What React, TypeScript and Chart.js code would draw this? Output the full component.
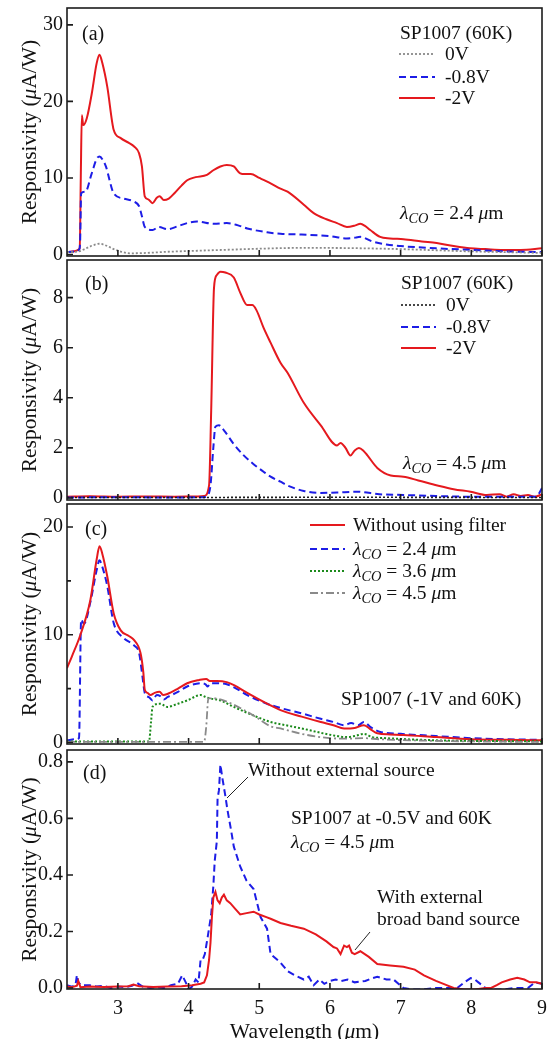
import React, { useEffect, useRef } from 'react';
import { Chart, registerables } from 'chart.js';

Chart.register(...registerables);

const FONT = '"Liberation Serif", "Times New Roman", "DejaVu Serif", serif';
const AXIS = '#1c1c1c';
const PAGE_W = 551;
const PAGE_H = 1039;
const PLOT_LEFT = 67;
const PLOT_RIGHT = 542;

// ---------- shared x axis ----------
const X_MIN = 2.28;
const X_MAX = 9.0;
const X_TICKS = [3, 4, 5, 6, 7, 8, 9];
const X_TICK_LABELS = ['3', '4', '5', '6', '7', '8', '9'];

// ---------- panel (a) ----------
const A_Y_TICKS = [0, 10, 20, 30];
const A_Y_LABELS = ['0', '10', '20', '30'];
const A_RED_X = [2.28, 2.35, 2.46, 2.475, 2.49, 2.51, 2.56, 2.63, 2.7, 2.74, 2.78, 2.85, 2.94, 3.04, 3.15, 3.23, 3.3, 3.34, 3.38, 3.43, 3.49, 3.55, 3.59, 3.65, 3.72, 3.8, 3.9, 3.98, 4.1, 4.26, 4.35, 4.45, 4.54, 4.64, 4.73, 4.8, 4.88, 5.0, 5.16, 5.3, 5.4, 5.63, 5.77, 5.95, 6.1, 6.24, 6.36, 6.43, 6.5, 6.57, 6.71, 6.85, 7.04, 7.3, 7.51, 7.75, 7.98, 8.2, 8.45, 8.7, 9.0];
const A_RED_Y = [0.3, 0.4, 0.8, 10, 18.2, 16.9, 17.8, 21.0, 25.0, 26.1, 25.0, 21.9, 16.3, 15.2, 14.6, 14.1, 13.2, 11.5, 7.6, 7.2, 6.7, 7.4, 7.6, 7.1, 7.3, 8.0, 9.0, 9.7, 10.1, 10.4, 11.0, 11.5, 11.7, 11.5, 10.6, 10.5, 10.5, 10.0, 9.3, 8.6, 8.2, 6.5, 5.4, 4.6, 4.1, 3.6, 3.8, 4.0, 3.7, 3.2, 2.3, 2.1, 2.0, 1.7, 1.5, 1.1, 0.8, 0.7, 0.6, 0.6, 0.8];
const A_BLUE_X = [2.28, 2.35, 2.45, 2.465, 2.48, 2.54, 2.63, 2.7, 2.74, 2.79, 2.83, 2.94, 3.08, 3.23, 3.3, 3.34, 3.38, 3.49, 3.58, 3.7, 3.85, 3.98, 4.12, 4.36, 4.54, 4.7, 4.83, 5.11, 5.3, 5.6, 6.0, 6.24, 6.36, 6.43, 6.6, 6.8, 7.0, 7.5, 8.0, 8.5, 9.0];
const A_BLUE_Y = [0.3, 0.35, 0.6, 1.5, 8.0, 8.2, 10.6, 12.5, 12.8, 12.3, 11.5, 8.0, 7.3, 6.9, 6.3, 5.0, 3.6, 3.2, 3.6, 3.3, 3.7, 4.1, 4.3, 4.0, 4.1, 3.8, 3.4, 2.9, 2.7, 2.6, 2.4, 2.1, 2.2, 2.3, 1.7, 1.3, 1.1, 0.8, 0.6, 0.4, 0.3];
const A_GRAY_X = [2.28, 2.45, 2.55, 2.65, 2.74, 2.85, 2.94, 3.05, 3.18, 3.4, 3.7, 4.0, 4.5, 5.0, 5.5, 6.0, 6.5, 7.0, 7.5, 8.0, 8.5, 9.0];
const A_GRAY_Y = [0.3, 0.4, 0.8, 1.2, 1.4, 1.1, 0.7, 0.35, 0.15, 0.2, 0.35, 0.45, 0.6, 0.75, 0.85, 0.85, 0.8, 0.7, 0.55, 0.4, 0.3, 0.2];

// ---------- panel (b) ----------
const B_Y_TICKS = [0, 2, 4, 6, 8];
const B_Y_LABELS = ['0', '2', '4', '6', '8'];
const B_RED_X = [2.28, 2.6, 3.0, 3.4, 3.8, 4.1, 4.22, 4.29, 4.32, 4.36, 4.4, 4.45, 4.52, 4.64, 4.73, 4.83, 4.9, 4.96, 5.06, 5.16, 5.3, 5.4, 5.63, 5.87, 6.1, 6.15, 6.22, 6.29, 6.35, 6.41, 6.47, 6.53, 6.67, 6.86, 7.04, 7.25, 7.52, 7.75, 7.99, 8.22, 8.4, 8.5, 8.6, 8.7, 8.8, 8.9, 9.0];
const B_RED_Y = [0.05, 0.07, 0.05, 0.06, 0.05, 0.06, 0.08, 0.5, 3.5, 8.4, 8.9, 9.03, 9.0, 8.8, 8.2, 7.7, 7.7, 7.5, 6.8, 6.2, 5.4, 5.0, 3.8, 2.9, 2.1, 2.2, 2.0, 1.7, 1.9, 2.0, 1.9, 1.7, 1.2, 0.9, 0.85, 0.7, 0.5, 0.35, 0.25, 0.12, 0.15, 0.05, 0.15, 0.08, 0.12, 0.05, 0.15];
const B_BLUE_X = [2.28, 3.0, 3.8, 4.2, 4.26, 4.31, 4.35, 4.38, 4.43, 4.5, 4.64, 4.78, 4.92, 5.06, 5.16, 5.3, 5.4, 5.63, 5.87, 6.1, 6.4, 6.7, 7.04, 7.5, 8.0, 8.5, 8.9, 8.95, 9.0];
const B_BLUE_Y = [0.02, 0.03, 0.02, 0.03, 0.08, 0.5, 2.0, 2.85, 2.9, 2.7, 2.15, 1.7, 1.35, 1.05, 0.85, 0.65, 0.5, 0.28, 0.2, 0.22, 0.25, 0.15, 0.12, 0.08, 0.05, 0.05, 0.05, 0.15, 0.4];
const B_BLACK_X = [2.28, 4.0, 6.0, 9.0];
const B_BLACK_Y = [0.02, 0.02, 0.03, 0.02];

// ---------- panel (c) ----------
const C_Y_TICKS = [0, 10, 20];
const C_Y_LABELS = ['0', '10', '20'];
const C_Y_MINOR = [5, 15];
const C_RED_X = [2.28, 2.35, 2.47, 2.61, 2.7, 2.74, 2.78, 2.85, 2.94, 3.04, 3.15, 3.23, 3.32, 3.36, 3.38, 3.42, 3.46, 3.52, 3.59, 3.64, 3.7, 3.85, 3.98, 4.15, 4.25, 4.3, 4.4, 4.54, 4.65, 4.83, 5.11, 5.3, 5.6, 5.87, 6.05, 6.2, 6.35, 6.48, 6.58, 6.67, 6.85, 7.04, 7.5, 7.99, 8.5, 9.0];
const C_RED_Y = [6.9, 8.0, 10.0, 13.2, 17.0, 18.2, 17.5, 15.4, 12.0, 10.4, 9.9, 9.5, 8.3, 6.5, 4.9, 4.6, 4.4, 4.6, 4.7, 4.4, 4.5, 5.0, 5.5, 5.8, 5.9, 5.7, 5.7, 5.6, 5.3, 4.6, 3.6, 3.0, 2.4, 1.9, 1.6, 1.3, 1.35, 1.6, 1.2, 0.85, 0.75, 0.7, 0.5, 0.3, 0.25, 0.2];
const C_BLUE_X = [2.28, 2.4, 2.45, 2.48, 2.52, 2.61, 2.7, 2.74, 2.78, 2.85, 2.94, 3.08, 3.23, 3.3, 3.35, 3.38, 3.44, 3.49, 3.55, 3.6, 3.65, 3.7, 3.85, 3.98, 4.18, 4.24, 4.27, 4.31, 4.4, 4.54, 4.65, 4.83, 5.11, 5.3, 5.6, 5.87, 6.05, 6.2, 6.3, 6.4, 6.48, 6.58, 6.7, 7.0, 7.5, 8.0, 8.5, 9.0];
const C_BLUE_Y = [0.2, 0.3, 0.4, 11.4, 11.0, 13.0, 16.0, 16.9, 16.3, 14.5, 11.1, 9.7, 9.0, 8.3, 6.0, 4.6, 4.2, 3.9, 4.4, 4.3, 4.0, 4.2, 4.7, 5.2, 5.5, 5.4, 5.2, 5.5, 5.5, 5.4, 5.1, 4.4, 3.6, 3.2, 2.7, 2.2, 1.9, 1.6, 1.8, 1.6, 1.9, 1.4, 1.0, 0.8, 0.6, 0.4, 0.3, 0.25];
const C_GREEN_X = [2.28, 3.0, 3.44, 3.47, 3.49, 3.6, 3.7, 3.85, 3.98, 4.17, 4.25, 4.3, 4.45, 4.64, 4.92, 5.16, 5.3, 5.6, 5.87, 6.1, 6.24, 6.35, 6.48, 6.6, 6.8, 7.5, 8.0, 9.0];
const C_GREEN_Y = [0.1, 0.1, 0.1, 2.0, 3.3, 3.6, 3.3, 3.6, 3.9, 4.4, 4.2, 4.1, 3.9, 3.3, 2.5, 1.9, 1.7, 1.3, 0.9, 0.6, 0.5, 0.6, 0.8, 0.5, 0.4, 0.2, 0.15, 0.1];
const C_GRAY_X = [2.28, 3.0, 4.0, 4.22, 4.25, 4.28, 4.35, 4.45, 4.64, 4.92, 5.16, 5.3, 5.6, 5.87, 6.2, 6.48, 6.7, 7.5, 8.0, 9.0];
const C_GRAY_Y = [0.05, 0.05, 0.05, 0.05, 1.5, 4.1, 4.1, 4.0, 3.5, 2.5, 1.5, 1.3, 0.8, 0.5, 0.35, 0.4, 0.3, 0.15, 0.1, 0.05];

// ---------- panel (d) ----------
const D_Y_TICKS = [0, 0.2, 0.4, 0.6, 0.8];
const D_Y_LABELS = ['0.0', '0.2', '0.4', '0.6', '0.8'];
const D_BLUE_X = [2.28, 2.35, 2.4, 2.42, 2.44, 2.48, 2.6, 2.7, 2.8, 2.9, 3.0, 3.1, 3.2, 3.27, 3.35, 3.45, 3.55, 3.65, 3.75, 3.85, 3.91, 3.96, 4.0, 4.05, 4.1, 4.14, 4.17, 4.2, 4.23, 4.27, 4.32, 4.35, 4.37, 4.4, 4.41, 4.43, 4.45, 4.48, 4.52, 4.55, 4.6, 4.64, 4.73, 4.82, 4.92, 4.97, 5.02, 5.11, 5.16, 5.3, 5.4, 5.5, 5.63, 5.7, 5.77, 5.85, 5.92, 6.0, 6.08, 6.16, 6.25, 6.35, 6.5, 6.6, 6.67, 6.8, 6.9, 7.04, 7.15, 7.3, 7.5, 7.65, 7.8, 7.9, 7.99, 8.05, 8.1, 8.2, 8.3, 8.46, 8.6, 8.8, 8.9, 9.0];
const D_BLUE_Y = [0.01, 0.005, 0.01, 0.045, 0.02, 0.01, 0.01, 0.005, 0.008, 0.0, 0.005, 0.003, 0.008, 0.018, 0.005, 0.0, 0.003, 0.0, 0.01, 0.015, 0.045, 0.02, -0.005, 0.005, 0.03, 0.02, 0.1, 0.1, 0.12, 0.18, 0.26, 0.36, 0.45, 0.52, 0.67, 0.7, 0.79, 0.74, 0.68, 0.63, 0.56, 0.5, 0.43, 0.38, 0.35, 0.3, 0.25, 0.21, 0.12, 0.09, 0.06, 0.045, 0.03, 0.04, 0.01, 0.03, 0.015, 0.025, 0.03, 0.025, 0.03, 0.02, 0.025, 0.035, 0.04, 0.03, 0.03, 0.0, -0.005, -0.005, 0.0, 0.0, 0.0, 0.02, 0.035, 0.03, 0.02, 0.0, -0.005, -0.005, 0.0, 0.0, 0.02, 0.015];
const D_RED_X = [2.28, 2.35, 2.42, 2.44, 2.47, 2.6, 2.8, 3.0, 3.15, 3.22, 3.3, 3.5, 3.7, 3.9, 4.05, 4.17, 4.22, 4.26, 4.29, 4.31, 4.33, 4.35, 4.38, 4.41, 4.44, 4.47, 4.5, 4.54, 4.59, 4.66, 4.73, 4.82, 4.92, 5.0, 5.11, 5.16, 5.3, 5.45, 5.63, 5.8, 5.95, 6.05, 6.1, 6.15, 6.2, 6.24, 6.27, 6.31, 6.35, 6.43, 6.55, 6.67, 6.85, 7.04, 7.2, 7.33, 7.5, 7.65, 7.75, 7.9, 8.05, 8.2, 8.28, 8.36, 8.43, 8.55, 8.65, 8.75, 8.83, 8.92, 9.0];
const D_RED_Y = [0.005, 0.003, 0.008, 0.025, 0.003, 0.005, 0.004, 0.005, 0.006, 0.012, 0.006, 0.004, 0.005, 0.006, 0.01, 0.015, 0.02, 0.045, 0.1, 0.16, 0.25, 0.32, 0.34, 0.31, 0.3, 0.32, 0.33, 0.31, 0.3, 0.28, 0.26, 0.265, 0.27, 0.26, 0.25, 0.245, 0.23, 0.22, 0.21, 0.19, 0.165, 0.145, 0.14, 0.12, 0.15, 0.145, 0.15, 0.125, 0.12, 0.13, 0.11, 0.085, 0.08, 0.075, 0.065, 0.045, 0.025, 0.01, 0.0, -0.005, -0.005, 0.0, 0.0, 0.01, 0.02, 0.03, 0.036, 0.03, 0.02, 0.02, 0.015];

// ---------- styles ----------
type Style = { color: string; width: number; dash: number[] };
const RED: Style = { color: '#e5191e', width: 2, dash: [] };
const BLUE: Style = { color: '#1d1de6', width: 2, dash: [7, 4] };
const GRAY_DOT: Style = { color: '#8a8a8a', width: 1.8, dash: [2, 2] };
const BLACK_DOT: Style = { color: '#1a1a1a', width: 1.6, dash: [2, 2] };
const GREEN_DOT: Style = { color: '#1b8a1b', width: 2, dash: [2, 2] };
const GRAY_DASHDOT: Style = { color: '#8a8a8a', width: 1.8, dash: [8, 3, 2, 3] };

// ---------- text helpers ----------
type Run = { t: string; it?: boolean; sub?: boolean };
const T = (t: string): Run => ({ t });
const I = (t: string): Run => ({ t, it: true });
const S = (t: string): Run => ({ t, it: true, sub: true });
const lambdaCO = (v: string): Run[] => [I('λ'), S('CO'), T(` = ${v} `), I('μ'), T('m')];
const Y_TITLE: Run[] = [T('Responsivity ('), I('μ'), T('A/W)')];
const X_TITLE: Run[] = [T('Wavelength ('), I('μ'), T('m)')];

function drawRuns(ctx: CanvasRenderingContext2D, runs: Run[], x: number, y: number, size: number, align: 'left' | 'center' = 'left') {
  const pieces = runs.map((r) => {
    const s = r.sub ? size * 0.74 : size;
    const font = `${r.it ? 'italic ' : ''}${s}px ${FONT}`;
    ctx.font = font;
    return { r, font, w: ctx.measureText(r.t).width };
  });
  const total = pieces.reduce((a, b) => a + b.w, 0);
  let cx = align === 'center' ? x - total / 2 : x;
  const base = y + size * 0.33;
  ctx.textAlign = 'left';
  ctx.textBaseline = 'alphabetic';
  ctx.fillStyle = '#111';
  for (const pc of pieces) {
    ctx.font = pc.font;
    ctx.fillText(pc.r.t, cx, pc.r.sub ? base + size * 0.2 : base);
    cx += pc.w;
  }
}

// ---------- panel specs ----------
type Series = { xs: number[]; ys: number[]; style: Style; tension: number };
type TextItem = { x: number; y: number; runs: Run[]; size: number };
type LegendRow = { y: number; style: Style; runs: Run[] };
type Panel = {
  key: string;
  areaTop: number;
  areaBottom: number;
  yMin: number;
  yMax: number;
  yTicks: number[];
  yLabels: string[];
  yMinor: number[];
  showX: boolean;
  series: Series[];
  texts: TextItem[];
  legend: { x1: number; x2: number; tx: number; rows: LegendRow[] } | null;
  leaders: number[][];
};

const LEG = 19.5;

const PANELS: Panel[] = [
  {
    key: 'a', areaTop: 8, areaBottom: 256, yMin: -0.2, yMax: 32.2,
    yTicks: A_Y_TICKS, yLabels: A_Y_LABELS, yMinor: [], showX: false,
    series: [
      { xs: A_GRAY_X, ys: A_GRAY_Y, style: GRAY_DOT, tension: 0.3 },
      { xs: A_BLUE_X, ys: A_BLUE_Y, style: BLUE, tension: 0.3 },
      { xs: A_RED_X, ys: A_RED_Y, style: RED, tension: 0.3 },
    ],
    texts: [
      { x: 82, y: 33, runs: [T('(a)')], size: 20 },
      { x: 400, y: 33, runs: [T('SP1007 (60K)')], size: LEG },
      { x: 400, y: 213, runs: lambdaCO('2.4'), size: LEG },
    ],
    legend: {
      x1: 399, x2: 435, tx: 445,
      rows: [
        { y: 54, style: GRAY_DOT, runs: [T('0V')] },
        { y: 77, style: BLUE, runs: [T('-0.8V')] },
        { y: 98, style: RED, runs: [T('-2V')] },
      ],
    },
    leaders: [],
  },
  {
    key: 'b', areaTop: 260, areaBottom: 500, yMin: -0.08, yMax: 9.5,
    yTicks: B_Y_TICKS, yLabels: B_Y_LABELS, yMinor: [], showX: false,
    series: [
      { xs: B_BLACK_X, ys: B_BLACK_Y, style: BLACK_DOT, tension: 0 },
      { xs: B_BLUE_X, ys: B_BLUE_Y, style: BLUE, tension: 0.3 },
      { xs: B_RED_X, ys: B_RED_Y, style: RED, tension: 0.3 },
    ],
    texts: [
      { x: 85, y: 283, runs: [T('(b)')], size: 20 },
      { x: 401, y: 283, runs: [T('SP1007 (60K)')], size: LEG },
      { x: 403, y: 463, runs: lambdaCO('4.5'), size: LEG },
    ],
    legend: {
      x1: 401, x2: 436, tx: 446,
      rows: [
        { y: 305, style: BLACK_DOT, runs: [T('0V')] },
        { y: 327, style: BLUE, runs: [T('-0.8V')] },
        { y: 348, style: RED, runs: [T('-2V')] },
      ],
    },
    leaders: [],
  },
  {
    key: 'c', areaTop: 504, areaBottom: 744, yMin: -0.14, yMax: 22.13,
    yTicks: C_Y_TICKS, yLabels: C_Y_LABELS, yMinor: C_Y_MINOR, showX: false,
    series: [
      { xs: C_GRAY_X, ys: C_GRAY_Y, style: GRAY_DASHDOT, tension: 0.3 },
      { xs: C_GREEN_X, ys: C_GREEN_Y, style: GREEN_DOT, tension: 0.3 },
      { xs: C_RED_X, ys: C_RED_Y, style: RED, tension: 0.3 },
      { xs: C_BLUE_X, ys: C_BLUE_Y, style: BLUE, tension: 0.3 },
    ],
    texts: [
      { x: 85, y: 528, runs: [T('(c)')], size: 20 },
      { x: 341, y: 699, runs: [T('SP1007 (-1V and 60K)')], size: LEG },
    ],
    legend: {
      x1: 310, x2: 345, tx: 353,
      rows: [
        { y: 525, style: RED, runs: [T('Without using filter')] },
        { y: 549, style: BLUE, runs: lambdaCO('2.4') },
        { y: 571, style: GREEN_DOT, runs: lambdaCO('3.6') },
        { y: 593, style: GRAY_DASHDOT, runs: lambdaCO('4.5') },
      ],
    },
    leaders: [],
  },
  {
    key: 'd', areaTop: 750, areaBottom: 989, yMin: -0.0035, yMax: 0.842,
    yTicks: D_Y_TICKS, yLabels: D_Y_LABELS, yMinor: [], showX: true,
    series: [
      { xs: D_RED_X, ys: D_RED_Y, style: RED, tension: 0 },
      { xs: D_BLUE_X, ys: D_BLUE_Y, style: BLUE, tension: 0 },
    ],
    texts: [
      { x: 83, y: 772, runs: [T('(d)')], size: 20 },
      { x: 248, y: 770, runs: [T('Without external source')], size: LEG },
      { x: 291, y: 818, runs: [T('SP1007 at -0.5V and 60K')], size: LEG },
      { x: 291, y: 842, runs: lambdaCO('4.5'), size: LEG },
      { x: 377, y: 897, runs: [T('With external')], size: LEG },
      { x: 377, y: 919, runs: [T('broad band source')], size: LEG },
    ],
    legend: null,
    leaders: [
      [248, 777, 227, 798],
      [370, 932, 355, 950],
    ],
  },
];

function strokeStyle(ctx: CanvasRenderingContext2D, s: Style) {
  ctx.strokeStyle = s.color;
  ctx.lineWidth = s.width;
  ctx.setLineDash(s.dash);
}

function PanelChart({ p }: { p: Panel }) {
  const ref = useRef<HTMLCanvasElement>(null);
  const cTop = Math.max(0, p.areaTop - 22);
  const cBottom = p.showX ? PAGE_H : p.areaBottom + 16;
  const h = cBottom - cTop;

  useEffect(() => {
    const xAxisH = cBottom - p.areaBottom;
    const decor = {
      id: 'decor' + p.key,
      afterDraw(chart: any) {
        const ctx: CanvasRenderingContext2D = chart.ctx;
        const { left, right, top, bottom } = chart.chartArea;
        const xs = chart.scales.x;
        const ys = chart.scales.y;
        ctx.save();
        // box
        ctx.setLineDash([]);
        ctx.strokeStyle = AXIS;
        ctx.lineWidth = 1.6;
        ctx.strokeRect(left, top, right - left, bottom - top);
        // inward ticks
        ctx.beginPath();
        X_TICKS.forEach((v) => {
          const px = xs.getPixelForValue(v);
          ctx.moveTo(px, bottom);
          ctx.lineTo(px, bottom - 6);
        });
        p.yTicks.forEach((v) => {
          const py = ys.getPixelForValue(v);
          ctx.moveTo(left, py);
          ctx.lineTo(left + 6, py);
        });
        p.yMinor.forEach((v) => {
          const py = ys.getPixelForValue(v);
          ctx.moveTo(left, py);
          ctx.lineTo(left + 4, py);
        });
        ctx.stroke();
        // texts
        p.texts.forEach((t) => drawRuns(ctx, t.runs, t.x, t.y - cTop, t.size));
        // legend
        if (p.legend) {
          const L = p.legend;
          L.rows.forEach((r) => {
            ctx.save();
            strokeStyle(ctx, r.style);
            ctx.beginPath();
            ctx.moveTo(L.x1, r.y - cTop);
            ctx.lineTo(L.x2, r.y - cTop);
            ctx.stroke();
            ctx.restore();
            drawRuns(ctx, r.runs, L.tx, r.y - cTop, LEG);
          });
        }
        // leader lines
        ctx.setLineDash([]);
        ctx.strokeStyle = '#222';
        ctx.lineWidth = 1;
        p.leaders.forEach((l) => {
          ctx.beginPath();
          ctx.moveTo(l[0], l[1] - cTop);
          ctx.lineTo(l[2], l[3] - cTop);
          ctx.stroke();
        });
        // y title
        ctx.save();
        ctx.translate(29, (p.areaTop + p.areaBottom) / 2 - cTop);
        ctx.rotate(-Math.PI / 2);
        drawRuns(ctx, Y_TITLE, 0, 0, 21.5, 'center');
        ctx.restore();
        // x title
        if (p.showX) {
          drawRuns(ctx, X_TITLE, (PLOT_LEFT + PLOT_RIGHT) / 2, 1031 - cTop, 21.5, 'center');
        }
        ctx.restore();
      },
    };

    const chart = new Chart(ref.current as HTMLCanvasElement, {
      type: 'line',
      data: {
        datasets: p.series.map((s) => ({
          data: s.xs.map((x, i) => ({ x, y: s.ys[i] })),
          borderColor: s.style.color,
          borderWidth: s.style.width,
          borderDash: s.style.dash,
          pointRadius: 0,
          fill: false,
          tension: s.tension,
          cubicInterpolationMode: s.tension > 0 ? 'monotone' : 'default',
        })) as any,
      },
      options: {
        animation: false,
        responsive: false,
        devicePixelRatio: 1,
        events: [],
        layout: { padding: { top: p.areaTop - cTop, right: PAGE_W - PLOT_RIGHT, bottom: 0, left: 0 } },
        plugins: { legend: { display: false }, tooltip: { enabled: false } },
        scales: {
          x: {
            type: 'linear',
            min: X_MIN,
            max: X_MAX,
            grid: { display: false, drawTicks: false, tickLength: 0 },
            border: { display: false },
            ticks: {
              display: p.showX,
              autoSkip: false,
              maxRotation: 0,
              padding: 8,
              color: '#111',
              font: { family: FONT, size: 20 },
              callback: (_v: any, i: number) => X_TICK_LABELS[i],
            },
            afterBuildTicks: (s: any) => {
              s.ticks = X_TICKS.map((v) => ({ value: v }));
            },
            afterFit: (s: any) => {
              s.height = xAxisH;
              s.paddingLeft = 0;
              s.paddingRight = 0;
              s.paddingTop = 0;
              s.paddingBottom = 0;
            },
          },
          y: {
            type: 'linear',
            min: p.yMin,
            max: p.yMax,
            grid: { display: false, drawTicks: false, tickLength: 0 },
            border: { display: false },
            ticks: {
              autoSkip: false,
              padding: 4,
              color: '#111',
              font: { family: FONT, size: 20 },
              callback: (_v: any, i: number) => p.yLabels[i],
            },
            afterBuildTicks: (s: any) => {
              s.ticks = p.yTicks.map((v) => ({ value: v }));
            },
            afterFit: (s: any) => {
              s.width = PLOT_LEFT;
              s.paddingLeft = 0;
              s.paddingRight = 0;
              s.paddingTop = 0;
              s.paddingBottom = 0;
            },
          },
        },
      } as any,
      plugins: [decor],
    });
    return () => chart.destroy();
  }, []);

  return (
    <canvas
      ref={ref}
      width={PAGE_W}
      height={h}
      style={{ position: 'absolute', left: 0, top: cTop, width: PAGE_W, height: h, display: 'block' }}
    />
  );
}

export default function App() {
  return (
    <div style={{ position: 'absolute', left: 0, top: 0, width: PAGE_W, height: PAGE_H, background: '#fff' }}>
      {PANELS.map((p) => (
        <PanelChart key={p.key} p={p} />
      ))}
    </div>
  );
}
